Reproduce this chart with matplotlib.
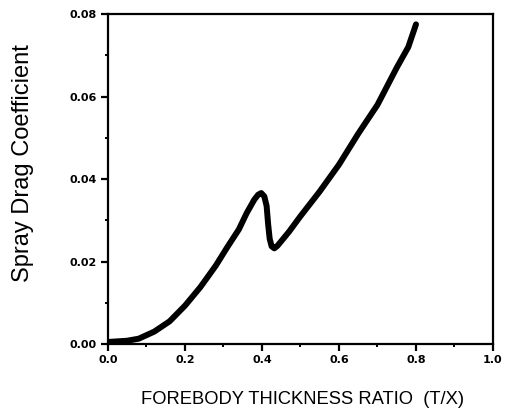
import matplotlib

matplotlib.use("Agg")

import matplotlib.pyplot as plt
from matplotlib.ticker import MultipleLocator

# thickness ratio T/X and spray drag coefficient
ratio = [0.0, 0.05, 0.08, 0.12, 0.16, 0.2, 0.24, 0.28, 0.31, 0.34, 0.36,
         0.38, 0.39, 0.398, 0.406, 0.412, 0.416, 0.42, 0.425, 0.432, 0.44,
         0.47, 0.5, 0.55, 0.6, 0.65, 0.7, 0.75, 0.78, 0.8]
drag = [0.0005, 0.0008, 0.0013, 0.003, 0.0055, 0.0093, 0.0138, 0.019,
        0.0235, 0.0278, 0.0317, 0.035, 0.0362, 0.0366, 0.0358, 0.0335,
        0.029, 0.0255, 0.0237, 0.0232, 0.0238, 0.0272, 0.031, 0.037,
        0.0435, 0.051, 0.058, 0.067, 0.072, 0.0775]

x_ticks = [0.0, 0.2, 0.4, 0.6, 0.8, 1.0]
y_ticks = [0.00, 0.02, 0.04, 0.06, 0.08]

fig = plt.figure(figsize=(5.13, 4.13), dpi=100)
ax = fig.add_axes([0.2105, 0.167, 0.7505, 0.799])

ax.plot(ratio, drag, color="black", linewidth=4.3, solid_capstyle="round",
        solid_joinstyle="round")

ax.set_xlim(0, 1.0)
ax.set_ylim(0, 0.08)
ax.set_xticks(x_ticks)
ax.set_yticks(y_ticks)
ax.set_xticklabels([f"{v:.1f}" for v in x_ticks])
ax.set_yticklabels([f"{v:.2f}" for v in y_ticks])
ax.xaxis.set_minor_locator(MultipleLocator(0.1))
ax.yaxis.set_minor_locator(MultipleLocator(0.01))

for side in ["left", "bottom", "top", "right"]:
    ax.spines[side].set_linewidth(1.6)
ax.tick_params(which="major", direction="out", length=5, width=1.6,
               labelsize=8, pad=3, top=False, right=False)
ax.tick_params(which="minor", direction="out", length=2.5, width=1.4,
               top=False, right=False)
for label in ax.get_xticklabels() + ax.get_yticklabels():
    label.set_fontweight("bold")
    label.set_family("DejaVu Sans")

fig.text(0.045, 0.605, "Spray Drag Coefficient", rotation=90,
         ha="center", va="center", fontsize=17, family="Liberation Sans")
fig.text(0.59, 0.033, "FOREBODY THICKNESS RATIO  (T/X)",
         ha="center", va="center", fontsize=13.2, family="Liberation Sans")

fig.savefig("out.png", dpi=100, facecolor="white")
